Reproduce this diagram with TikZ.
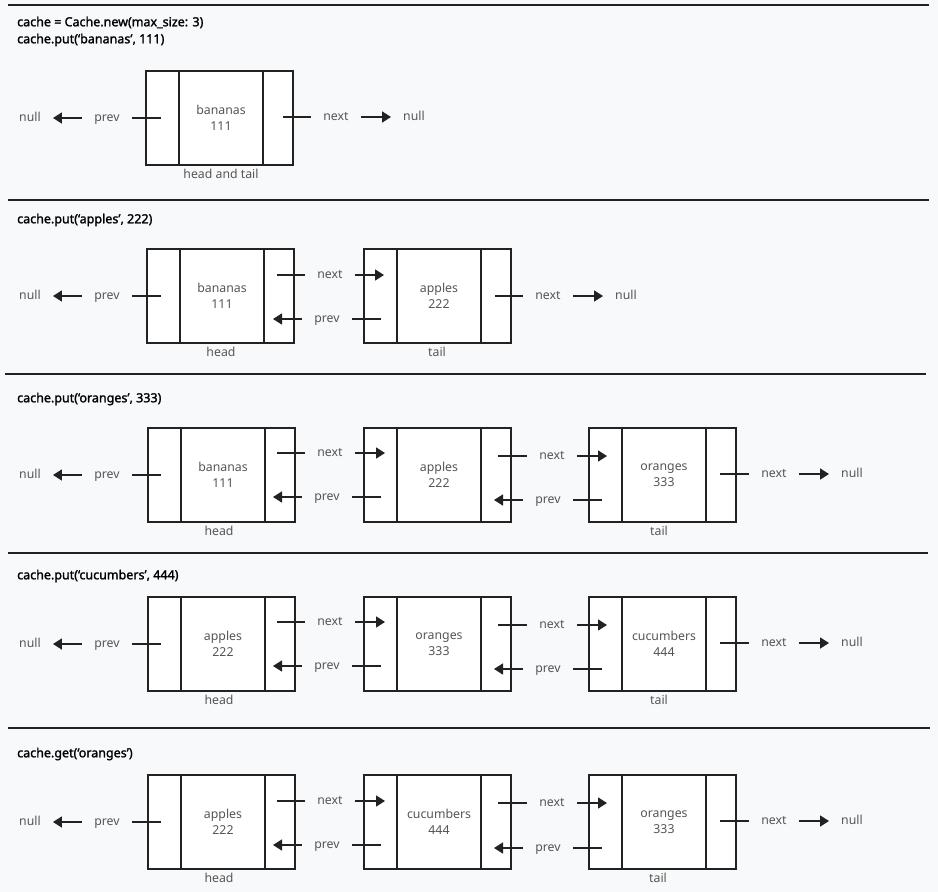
\documentclass[tikz,border=0pt]{standalone}
\usepackage{fontspec}
\setmainfont{Noto Sans}
\newfontfamily\ttlfont{Noto Sans}[FakeBold=1.6]
\usetikzlibrary{arrows.meta,positioning}
\definecolor{bg}{HTML}{F8F9FB}
\definecolor{ink}{HTML}{222222}
\definecolor{txt}{HTML}{555555}
\begin{document}
\begin{tikzpicture}[x=1pt,y=-1pt,
        box/.style={draw=ink, fill=white, line width=1.6pt, outer sep=0pt, minimum height=94pt, inner sep=0pt},
        cell/.style={box, minimum width=84pt, align=center, text=txt, font={\fontsize{12.3}{16.5}\selectfont}},
        lside/.style={box, minimum width=33pt},
        rside/.style={box, minimum width=30pt},
        lbl/.style={text=txt, font={\fontsize{12.3}{16.5}\selectfont}, inner xsep=12pt, inner ysep=0pt, text height=9pt, text depth=3pt},
        tag/.style={lbl, inner xsep=0pt},
        ttl/.style={anchor=west, inner sep=0pt, align=left, text=black, font={\ttlfont\fontsize{12.5}{17}\selectfont}},
        stub/.style={draw=ink, line width=1.6pt},
        arr/.style={stub, -{Triangle[length=9pt,width=11pt]}},
        divider/.style={draw=ink, line width=1.8pt}]
        \fill[bg] (0,0) rectangle (938,892);
        \useasboundingbox (0,0) rectangle (938,892);

        % separators
        \path[divider] (8,5) -- (929,5);
        \path[divider] (8,200) -- (929,200);
        \path[divider] (5,374) -- (926,374);
        \path[divider] (8,553) -- (928,553);
        \path[divider] (8,728) -- (930,728);

        % put bananas
        \node[ttl] (t1) at (17,31.5) {cache = Cache.new(max\_size: 3)\\cache.put(‘bananas’, 111)};
        \node[cell] (s1a) at (221,118) {bananas\\111};
        \node[lside, left=0pt of s1a] (s1a-l) {};
        \node[rside, right=0pt of s1a] (s1a-r) {};
        \node[tag, below=4pt of s1a] (s1h) {head and tail};
        \node[lbl] (s1nl) at (30,118) {null};
        \node[lbl] (s1p) at (107,118) {prev};
        \coordinate (s1c0) at (161,118);
        \coordinate (s1c1) at (283,117);
        \node[lbl] (s1n) at (336,117) {next};
        \node[lbl] (s1nr) at (414,117) {null};

        \path[stub] (s1c0) -- (s1p);
        \path[arr] (s1p) -- (s1nl);
        \path[stub] (s1c1) -- (s1n);
        \path[arr] (s1n) -- (s1nr);

        % put apples
        \node[ttl] (t2) at (17,220) {cache.put(‘apples’, 222)};
        \node[cell] (s2a) at (222,296) {bananas\\111};
        \node[lside, left=0pt of s2a] (s2a-l) {};
        \node[rside, right=0pt of s2a] (s2a-r) {};
        \node[cell] (s2b) at (439,296) {apples\\222};
        \node[lside, left=0pt of s2b] (s2b-l) {};
        \node[rside, right=0pt of s2b] (s2b-r) {};
        \node[tag, below=4pt of s2a, xshift=-1pt] (s2h) {head};
        \node[tag, below=4pt of s2b, xshift=-2pt] (s2t) {tail};
        \node[lbl] (s2nl) at (30,296) {null};
        \node[lbl] (s2p0) at (107,296) {prev};
        \coordinate (s2c0) at (161,296);
        \coordinate (s2c1) at (277,275);
        \node[lbl] (s2n1) at (330,275) {next};
        \coordinate (s2e1) at (384,275);
        \coordinate (s2c2) at (381,319);
        \node[lbl] (s2p1) at (327,319) {prev};
        \coordinate (s2e2) at (273,319);
        \coordinate (s2c3) at (495,296);
        \node[lbl] (s2n2) at (548,296) {next};
        \node[lbl] (s2nr) at (626,296) {null};

        \path[stub] (s2c0) -- (s2p0);
        \path[arr] (s2p0) -- (s2nl);
        \path[stub] (s2c1) -- (s2n1);
        \path[arr] (s2n1) -- (s2e1);
        \path[stub] (s2c2) -- (s2p1);
        \path[arr] (s2p1) -- (s2e2);
        \path[stub] (s2c3) -- (s2n2);
        \path[arr] (s2n2) -- (s2nr);

        % put oranges
        \node[ttl] (t3) at (17,399) {cache.put(‘oranges’, 333)};
        \node[cell] (s3a) at (223,475) {bananas\\111};
        \node[lside, left=0pt of s3a] (s3a-l) {};
        \node[rside, right=0pt of s3a] (s3a-r) {};
        \node[cell] (s3b) at (439,475) {apples\\222};
        \node[lside, left=0pt of s3b] (s3b-l) {};
        \node[rside, right=0pt of s3b] (s3b-r) {};
        \node[cell] (s3c) at (664,475) {oranges\\333};
        \node[lside, left=0pt of s3c] (s3c-l) {};
        \node[rside, right=0pt of s3c] (s3c-r) {};
        \node[tag, below=4pt of s3a, xshift=-4pt] (s3h) {head};
        \node[tag, below=4pt of s3c, xshift=-5pt] (s3t) {tail};
        \node[lbl] (s3nl) at (30,475) {null};
        \node[lbl] (s3p0) at (107,475) {prev};
        \coordinate (s3c0) at (161,475);
        \coordinate (s3c1) at (277,453);
        \node[lbl] (s3n1) at (330,453) {next};
        \coordinate (s3e1) at (385,453);
        \coordinate (s3c2) at (381,497);
        \node[lbl] (s3p1) at (327,497) {prev};
        \coordinate (s3e2) at (273,497);
        \coordinate (s3c3) at (498,456);
        \node[lbl] (s3n2) at (552,456) {next};
        \coordinate (s3e3) at (607,456);
        \coordinate (s3c4) at (602,500);
        \node[lbl] (s3p2) at (548,500) {prev};
        \coordinate (s3e4) at (494,500);
        \coordinate (s3c5) at (720,474);
        \node[lbl] (s3n3) at (774,474) {next};
        \node[lbl] (s3nr) at (852,474) {null};

        \path[stub] (s3c0) -- (s3p0);
        \path[arr] (s3p0) -- (s3nl);
        \path[stub] (s3c1) -- (s3n1);
        \path[arr] (s3n1) -- (s3e1);
        \path[stub] (s3c2) -- (s3p1);
        \path[arr] (s3p1) -- (s3e2);
        \path[stub] (s3c3) -- (s3n2);
        \path[arr] (s3n2) -- (s3e3);
        \path[stub] (s3c4) -- (s3p2);
        \path[arr] (s3p2) -- (s3e4);
        \path[stub] (s3c5) -- (s3n3);
        \path[arr] (s3n3) -- (s3nr);

        % put cucumbers, bananas drop out
        \node[ttl] (t4) at (17,576) {cache.put(‘cucumbers’, 444)};
        \node[cell] (s4a) at (223,644) {apples\\222};
        \node[lside, left=0pt of s4a] (s4a-l) {};
        \node[rside, right=0pt of s4a] (s4a-r) {};
        \node[cell] (s4b) at (439,644) {oranges\\333};
        \node[lside, left=0pt of s4b] (s4b-l) {};
        \node[rside, right=0pt of s4b] (s4b-r) {};
        \node[cell] (s4c) at (664,644) {cucumbers\\444};
        \node[lside, left=0pt of s4c] (s4c-l) {};
        \node[rside, right=0pt of s4c] (s4c-r) {};
        \node[tag, below=4pt of s4a, xshift=-4pt] (s4h) {head};
        \node[tag, below=4pt of s4c, xshift=-5pt] (s4t) {tail};
        \node[lbl] (s4nl) at (30,644) {null};
        \node[lbl] (s4p0) at (107,644) {prev};
        \coordinate (s4c0) at (161,644);
        \coordinate (s4c1) at (277,622);
        \node[lbl] (s4n1) at (330,622) {next};
        \coordinate (s4e1) at (385,622);
        \coordinate (s4c2) at (381,666);
        \node[lbl] (s4p1) at (327,666) {prev};
        \coordinate (s4e2) at (273,666);
        \coordinate (s4c3) at (498,625);
        \node[lbl] (s4n2) at (552,625) {next};
        \coordinate (s4e3) at (607,625);
        \coordinate (s4c4) at (602,669);
        \node[lbl] (s4p2) at (548,669) {prev};
        \coordinate (s4e4) at (494,669);
        \coordinate (s4c5) at (720,643);
        \node[lbl] (s4n3) at (774,643) {next};
        \node[lbl] (s4nr) at (852,643) {null};

        \path[stub] (s4c0) -- (s4p0);
        \path[arr] (s4p0) -- (s4nl);
        \path[stub] (s4c1) -- (s4n1);
        \path[arr] (s4n1) -- (s4e1);
        \path[stub] (s4c2) -- (s4p1);
        \path[arr] (s4p1) -- (s4e2);
        \path[stub] (s4c3) -- (s4n2);
        \path[arr] (s4n2) -- (s4e3);
        \path[stub] (s4c4) -- (s4p2);
        \path[arr] (s4p2) -- (s4e4);
        \path[stub] (s4c5) -- (s4n3);
        \path[arr] (s4n3) -- (s4nr);

        % get oranges, moved to tail
        \node[ttl] (t5) at (17,754) {cache.get(‘oranges’)};
        \node[cell] (s5a) at (223,822) {apples\\222};
        \node[lside, left=0pt of s5a] (s5a-l) {};
        \node[rside, right=0pt of s5a] (s5a-r) {};
        \node[cell] (s5b) at (439,822) {cucumbers\\444};
        \node[lside, left=0pt of s5b] (s5b-l) {};
        \node[rside, right=0pt of s5b] (s5b-r) {};
        \node[cell] (s5c) at (664,822) {oranges\\333};
        \node[lside, left=0pt of s5c] (s5c-l) {};
        \node[rside, right=0pt of s5c] (s5c-r) {};
        \node[tag, below=4pt of s5a, xshift=-4pt] (s5h) {head};
        \node[tag, below=4pt of s5c, xshift=-6pt] (s5t) {tail};
        \node[lbl] (s5nl) at (30,822) {null};
        \node[lbl] (s5p0) at (107,822) {prev};
        \coordinate (s5c0) at (161,822);
        \coordinate (s5c1) at (277,801);
        \node[lbl] (s5n1) at (330,801) {next};
        \coordinate (s5e1) at (385,801);
        \coordinate (s5c2) at (381,845);
        \node[lbl] (s5p1) at (327,845) {prev};
        \coordinate (s5e2) at (273,845);
        \coordinate (s5c3) at (498,803);
        \node[lbl] (s5n2) at (552,803) {next};
        \coordinate (s5e3) at (607,803);
        \coordinate (s5c4) at (602,848);
        \node[lbl] (s5p2) at (548,848) {prev};
        \coordinate (s5e4) at (494,848);
        \coordinate (s5c5) at (720,821);
        \node[lbl] (s5n3) at (774,821) {next};
        \node[lbl] (s5nr) at (852,821) {null};

        \path[stub] (s5c0) -- (s5p0);
        \path[arr] (s5p0) -- (s5nl);
        \path[stub] (s5c1) -- (s5n1);
        \path[arr] (s5n1) -- (s5e1);
        \path[stub] (s5c2) -- (s5p1);
        \path[arr] (s5p1) -- (s5e2);
        \path[stub] (s5c3) -- (s5n2);
        \path[arr] (s5n2) -- (s5e3);
        \path[stub] (s5c4) -- (s5p2);
        \path[arr] (s5p2) -- (s5e4);
        \path[stub] (s5c5) -- (s5n3);
        \path[arr] (s5n3) -- (s5nr);
    \end{tikzpicture}
\end{document}
